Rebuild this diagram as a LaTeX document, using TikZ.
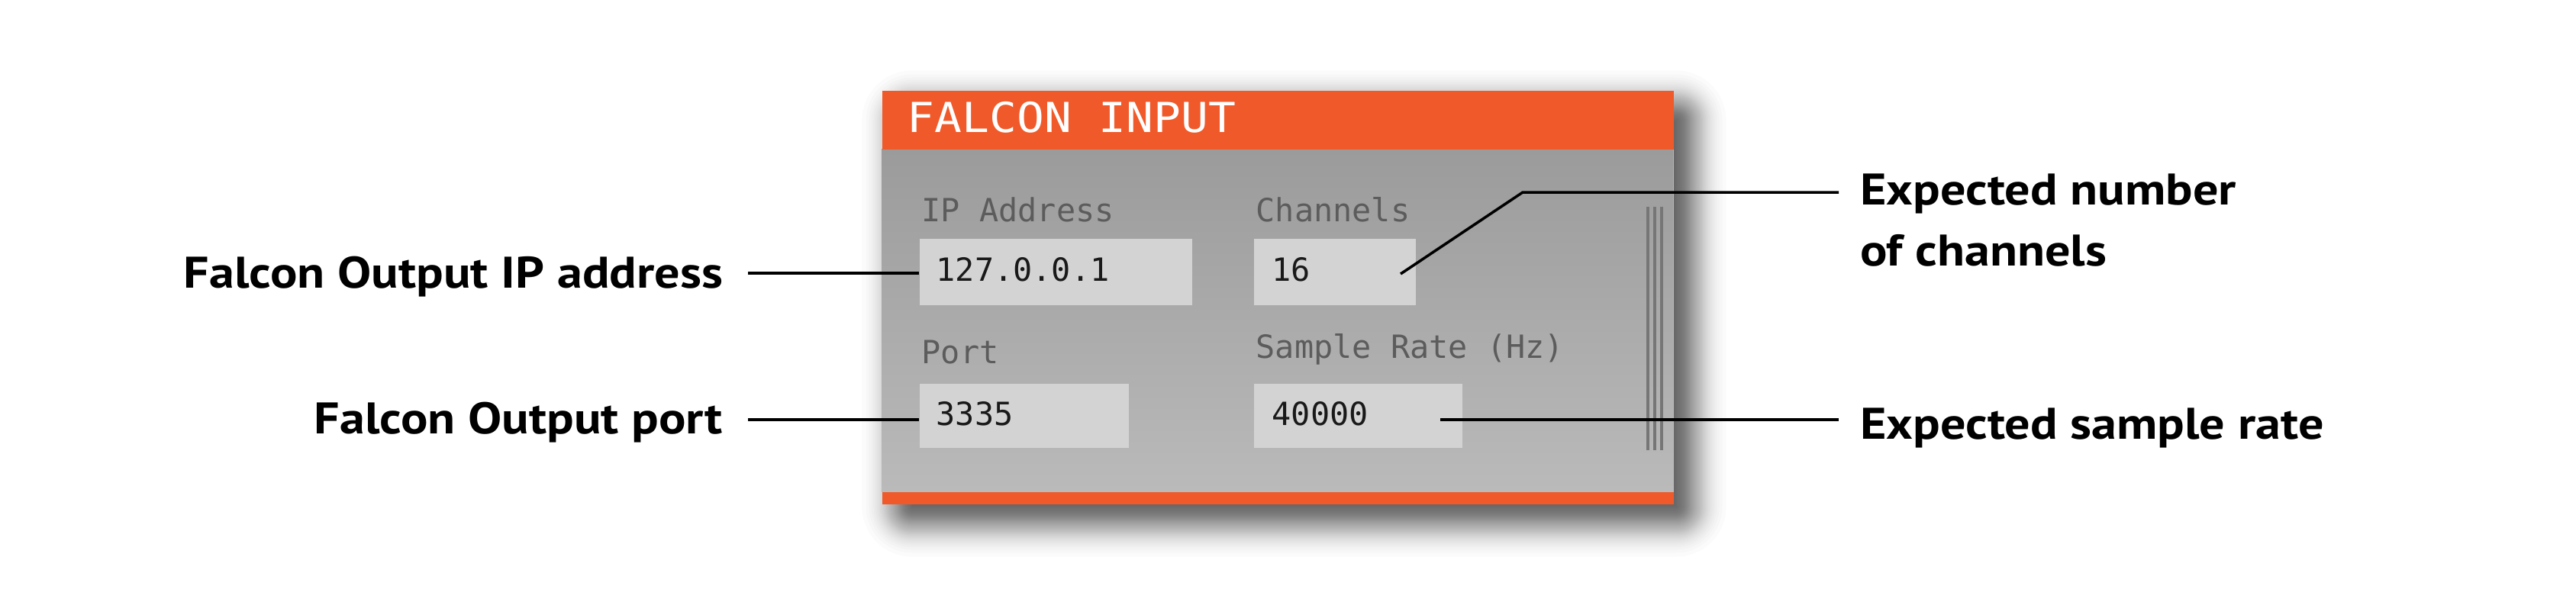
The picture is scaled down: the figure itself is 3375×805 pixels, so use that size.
\documentclass[tikz,border=0pt]{standalone}
\usepackage{fontspec}
\setmainfont{PT Sans}
\newfontfamily\labfont{PT Sans}[FakeStretch=1.14]
\newfontfamily\monofont{DejaVu Sans Mono}
\newfontfamily\titlefont{DejaVu Sans Mono}[FakeStretch=1.1]
\definecolor{falconorange}{RGB}{240,90,42}
\definecolor{paneltop}{RGB}{155,155,155}
\definecolor{panelbot}{RGB}{186,186,186}
\definecolor{fieldfill}{RGB}{211,211,211}
\definecolor{fieldlabel}{RGB}{92,92,92}
\definecolor{gripline}{RGB}{118,118,118}
\begin{document}
\begin{tikzpicture}[x=0.01cm,y=-0.01cm,
  calloutL/.style={font=\labfont\bfseries\fontsize{16.5pt}{20pt}\selectfont, inner sep=0, outer xsep=0.33cm, text=black, anchor=base east},
  calloutR/.style={font=\labfont\bfseries\fontsize{16.5pt}{20pt}\selectfont, inner sep=0, outer xsep=0.28cm, text=black, anchor=base west},
  leader/.style={draw=black, line width=1pt},
  fieldbox/.style={fill=fieldfill, inner sep=0, anchor=north west},
  fieldlabel/.style={font=\monofont\fontsize{11.9pt}{14pt}\selectfont, text=fieldlabel, inner sep=0, anchor=base west},
  fieldvalue/.style={font=\monofont\fontsize{11.9pt}{14pt}\selectfont, text=black!90, inner sep=0, anchor=base west},
  grip/.style={draw=gripline, line width=0.9pt},
]
\useasboundingbox (0,0) rectangle (3375,805);
\fill[white] (0,0) rectangle (3375,805);
% soft drop shadow (layers at logistic quantiles -> smooth falloff)
\foreach \k in {0,...,59}{
  \pgfmathsetmacro\q{0.04+0.92*\k/59}
  \pgfmathsetmacro\e{15*ln(\q/(1-\q))}
  \pgfmathsetmacro\rc{max(\e+18,1)*0.01}
  \pgfmathsetmacro\xa{1177-\e}
  \pgfmathsetmacro\ya{140-\e}
  \pgfmathsetmacro\xb{2214+\e}
  \pgfmathsetmacro\yb{682+\e}
  \fill[black, opacity=0.014, rounded corners=\rc cm] (\xa,\ya) rectangle (\xb,\yb);
}
% panel
\node[fill=panelbot, inner sep=0, minimum width=10.37cm, minimum height=5.42cm, anchor=north west] (panel) at (1155,118) {};
\shade[top color=paneltop, bottom color=panelbot] (1155,195) rectangle (2192,644);
\node[fill=falconorange, inner sep=0, minimum width=10.37cm, minimum height=0.77cm, anchor=north west] (header) at (1155,118) {};
\node[fill=falconorange, inner sep=0, minimum width=10.37cm, minimum height=0.16cm, anchor=north west] (footer) at (1155,644) {};
\node[font=\titlefont\fontsize{15.4pt}{19pt}\selectfont, text=white, inner sep=0, anchor=base west] (title) at (1188,173) {FALCON INPUT};
% fields
\node[fieldlabel] (iplabel) at (1207,290) {IP Address};
\node[fieldlabel] (chlabel) at (1645,290) {Channels};
\node[fieldlabel] (portlabel) at (1207,476) {Port};
\node[fieldlabel] (srlabel) at (1645,469) {Sample Rate (Hz)};
\node[fieldbox, minimum width=3.57cm, minimum height=0.87cm] (ipbox) at (1204,312) {};
\node[fieldbox, minimum width=2.12cm, minimum height=0.87cm] (chbox) at (1642,312) {};
\node[fieldbox, minimum width=2.74cm, minimum height=0.84cm] (portbox) at (1204,502) {};
\node[fieldbox, minimum width=2.73cm, minimum height=0.84cm] (srbox) at (1642,502) {};
\node[fieldvalue] (ipval) at (1226,368) {127.0.0.1};
\node[fieldvalue] (chval) at (1666,368) {16};
\node[fieldvalue] (portval) at (1226,557) {3335};
\node[fieldvalue] (srval) at (1666,557) {40000};
% grip lines
\draw[grip] (2159,271) -- (2159,590);
\draw[grip] (2168,271) -- (2168,590);
\draw[grip] (2177,271) -- (2177,590);
% callouts
\node[calloutL] (ipnote) at (980,377) {Falcon Output IP address};
\node[calloutL] (portnote) at (980,568) {Falcon Output port};
\node[calloutR] (chnote) at (2409,268) {Expected number};
\node[calloutR] (chnote2) at (2409,348) {of channels};
\node[calloutR] (srnote) at (2409,575) {Expected sample rate};
% connectors
\coordinate (ipend) at (ipbox.west |- 0,358);
\coordinate (portend) at (portbox.west |- 0,550);
\coordinate (chstart) at (1835,359);
\coordinate (chbend) at (1995,252);
\coordinate (srstart) at (1887,550);
\draw[leader] (ipnote.east |- ipend) -- (ipend);
\draw[leader] (portnote.east |- portend) -- (portend);
\draw[leader] (chstart) -- (chbend) -- (chnote.west |- chbend);
\draw[leader] (srstart) -- (srnote.west |- srstart);
\end{tikzpicture}
\end{document}
